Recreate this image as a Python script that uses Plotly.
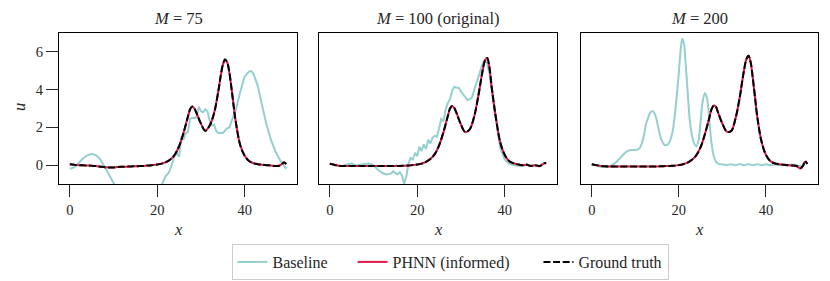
import plotly.graph_objects as go

# ---------------- data ----------------
PANEL_TITLES = ["<i>M</i> = 75", "<i>M</i> = 100 (original)", "<i>M</i> = 200"]
X_TICKS = [0, 20, 40]
Y_TICKS = [0, 2, 4, 6]

TRUTH_X = [0, 1, 2, 3, 4, 5, 6, 7, 8, 9, 10, 11, 12, 13, 14, 15, 16, 17, 18, 19,
           20, 21, 22, 23, 24, 25, 26, 27, 27.5, 28, 28.5, 29, 30, 31, 32, 33, 34,
           34.5, 35, 35.5, 36, 36.5, 37, 37.5, 38, 39, 40, 41, 42, 43, 44, 45, 46,
           47, 48, 48.5, 49, 49.5]

truth_m75 = [0.05, 0.02, 0.0, -0.01, -0.02, -0.03, -0.05, -0.08, -0.11, -0.12, -0.12,
             -0.1, -0.09, -0.08, -0.07, -0.06, -0.05, -0.04, -0.02, 0.0,
             0.03, 0.08, 0.16, 0.3, 0.55, 1.0, 1.7, 2.55, 2.95, 3.1, 3.0, 2.75, 2.2,
             1.82, 2.1, 2.75, 3.95, 4.7, 5.3, 5.6, 5.45, 4.9, 4.05, 3.1, 2.25, 1.05,
             0.5, 0.22, 0.1, 0.05, 0.02, 0.0, -0.02, -0.04, -0.03, 0.05, 0.15, 0.05]
phnn_m75 = [0.04, 0.02, 0.0, -0.01, -0.02, -0.03, -0.05, -0.08, -0.11, -0.12, -0.12,
            -0.1, -0.09, -0.08, -0.07, -0.06, -0.05, -0.04, -0.02, 0.0,
            0.03, 0.08, 0.16, 0.3, 0.55, 1.0, 1.7, 2.55, 2.95, 3.1, 3.0, 2.75, 2.2,
            1.82, 2.1, 2.75, 3.95, 4.7, 5.3, 5.6, 5.45, 4.9, 4.05, 3.1, 2.25, 1.05,
            0.5, 0.22, 0.1, 0.05, 0.02, 0.0, -0.02, -0.04, -0.02, 0.06, 0.12, 0.06]

truth_m100 = [0.08, 0.02, -0.03, -0.05, -0.05, -0.04, -0.05, -0.05, -0.05, -0.05,
              -0.05, -0.05, -0.05, -0.05, -0.05, -0.04, -0.04, -0.03, -0.02, 0.0,
              0.03, 0.08, 0.17, 0.32, 0.58, 1.05, 1.75, 2.6, 3.0, 3.13, 3.02, 2.75,
              2.15, 1.75, 1.9, 2.55, 3.7, 4.4, 5.05, 5.55, 5.68, 5.2, 4.2, 3.3, 2.5,
              1.2, 0.55, 0.22, 0.1, 0.04, 0.0, 0.03, -0.05, 0.0, -0.05, 0.0, 0.1, 0.1]
phnn_m100 = [0.07, 0.02, -0.03, -0.05, -0.05, -0.04, -0.05, -0.05, -0.05, -0.05,
             -0.05, -0.05, -0.05, -0.05, -0.05, -0.04, -0.04, -0.03, -0.02, 0.0,
             0.03, 0.08, 0.17, 0.32, 0.58, 1.05, 1.75, 2.6, 3.0, 3.13, 3.02, 2.75,
             2.15, 1.75, 1.9, 2.55, 3.7, 4.4, 5.05, 5.55, 5.68, 5.2, 4.2, 3.3, 2.5,
             1.2, 0.55, 0.22, 0.1, 0.04, 0.0, 0.02, -0.04, 0.0, -0.06, 0.02, 0.08, 0.12]

truth_m200 = [0.05, 0.0, -0.04, -0.06, -0.07, -0.07, -0.07, -0.07, -0.07, -0.07,
              -0.07, -0.07, -0.07, -0.07, -0.07, -0.07, -0.06, -0.05, -0.04, -0.03,
              0.0, 0.05, 0.13, 0.28, 0.52, 0.95, 1.65, 2.5, 2.95, 3.15, 3.1, 2.8,
              2.2, 1.78, 1.8, 2.45, 3.6, 4.35, 5.05, 5.6, 5.8, 5.45, 4.6, 3.6, 2.6,
              1.25, 0.55, 0.22, 0.1, 0.05, 0.02, 0.0, -0.02, -0.05, -0.15, -0.05, 0.22, 0.05]
phnn_m200 = [0.04, 0.0, -0.04, -0.06, -0.07, -0.07, -0.07, -0.07, -0.07, -0.07,
             -0.07, -0.07, -0.07, -0.07, -0.07, -0.07, -0.06, -0.05, -0.04, -0.03,
             0.0, 0.05, 0.13, 0.28, 0.52, 0.95, 1.65, 2.5, 2.95, 3.15, 3.1, 2.8,
             2.2, 1.78, 1.8, 2.45, 3.6, 4.35, 5.05, 5.6, 5.8, 5.45, 4.6, 3.6, 2.6,
             1.25, 0.55, 0.22, 0.1, 0.05, 0.02, 0.0, -0.02, -0.05, -0.18, -0.02, 0.18, 0.08]

base_m75_x = [0, 1, 2, 3, 4, 5, 6, 7, 8, 9, 10, 11, 13, 15, 17, 19, 20, 21, 21.5, 22,
              22.5, 23, 23.5, 24, 24.5, 25, 25.5, 26, 26.5, 27, 27.5, 28, 28.5, 29,
              29.5, 30, 30.5, 31, 31.5, 32, 32.5, 33, 33.5, 34, 35, 36, 36.5, 37, 38,
              39, 40, 41, 41.5, 42, 43, 44, 45, 46, 47, 48, 49, 49.5]
base_m75 = [-0.2, -0.12, 0.1, 0.35, 0.52, 0.6, 0.52, 0.3, -0.1, -0.55, -1.05, -1.5,
            -2.2, -2.5, -2.4, -1.9, -1.5, -1.05, -0.8, -0.55, -0.45, -0.2, 0.15, 0.5,
            0.62, 0.45, 1.5, 1.35, 1.7, 1.75, 2.45, 2.5, 2.5, 2.55, 3.1, 2.85, 2.8,
            2.95, 2.85, 2.35, 2.1, 2.15, 1.8, 1.7, 1.7, 1.95, 2.0, 2.3, 2.95, 3.9,
            4.7, 4.95, 4.98, 4.85, 4.2, 3.15, 2.15, 1.35, 0.75, 0.3, -0.05, -0.2]

base_m100_x = [0, 1, 2, 3, 4, 5, 6, 7, 8, 9, 10, 11, 12, 13, 14, 14.5, 15, 15.5, 16,
               16.5, 17, 17.5, 18, 18.5, 19, 19.5, 20, 20.5, 21, 21.5, 22, 22.5, 23,
               23.5, 24, 24.5, 25, 25.5, 26, 26.5, 27, 27.5, 28, 28.5, 29, 29.5, 30,
               30.5, 31, 31.5, 32, 32.5, 33, 34, 35, 35.5, 36, 36.5, 37, 38, 39, 40,
               41, 42, 43, 44, 45, 46, 47, 48, 49, 49.5]
base_m100 = [0.07, 0.0, -0.05, -0.05, 0.05, 0.08, -0.02, 0.02, 0.05, 0.08, 0.0, -0.25,
             -0.42, -0.5, -0.45, -0.32, -0.42, -0.48, -0.38, -0.55, -1.0, -0.6, 0.1,
             0.38, 0.3, 0.65, 0.48, 0.97, 0.75, 1.1, 0.85, 1.35, 1.15, 1.45, 1.55, 1.5,
             1.95, 2.45, 2.35, 2.95, 3.3, 3.5, 3.95, 4.15, 4.1, 4.1, 3.9, 3.75, 3.58,
             3.45, 3.5, 3.58, 3.95, 4.64, 5.4, 5.6, 5.35, 4.9, 4.0, 2.45, 0.9, 0.3,
             0.08, 0.0, -0.03, -0.05, 0.0, -0.02, -0.05, -0.05, 0.1, 0.12]

base_m200_x = [0, 1, 2, 3, 4, 5, 6, 7, 8, 9, 10, 10.5, 11, 11.5, 12, 12.5, 13, 13.5,
               14, 14.5, 15, 15.5, 16, 16.5, 17, 17.5, 18, 18.5, 19, 19.5, 20, 20.5,
               20.8, 21.2, 21.5, 22, 22.5, 23, 23.5, 24, 24.5, 25, 25.5, 26, 26.5, 27,
               27.5, 28, 28.5, 29, 30, 31, 32, 33, 34, 35, 36, 37, 38, 39, 40, 41, 42,
               43, 44, 45, 46, 47, 48, 49]
base_m200 = [0.04, -0.02, -0.08, -0.1, -0.08, 0.05, 0.25, 0.5, 0.72, 0.8, 0.8, 0.82,
             0.9, 1.15, 1.6, 2.2, 2.55, 2.8, 2.87, 2.7, 2.3, 1.75, 1.35, 1.12, 1.05,
             1.1, 1.3, 1.7, 2.5, 3.6, 4.9, 6.3, 6.7, 6.4, 5.6, 4.0, 2.4, 1.6, 1.15,
             1.0, 1.3, 2.3, 3.4, 3.82, 3.5, 2.4, 1.2, 0.5, 0.2, 0.08, 0.04, 0.0, 0.05,
             0.0, 0.05, 0.0, 0.05, 0.0, 0.05, 0.0, 0.04, 0.0, 0.03, 0.0, 0.03, 0.0,
             0.03, 0.0, -0.05, 0.0]

SERIES_NAMES = ["Baseline", "PHNN (informed)", "Ground truth"]

# ---------------- styles ----------------
C_BASE = "#95cfd0"
C_PHNN = "#dc1948"
C_TRUTH = "#000000"
FONT = "Liberation Serif"
TXT = "#262626"
PAD = "\u00a0"  # legend spacing

panels = [
    (base_m75_x, base_m75, phnn_m75, truth_m75, "linear"),
    (base_m100_x, base_m100, phnn_m100, truth_m100, "linear"),
    (base_m200_x, base_m200, phnn_m200, truth_m200, "spline"),
]

# the page body has an 8px margin, so work in page pixels minus that offset
OFF = 8
W = 830 - OFF
H = 281 - OFF
top_px, bot_px = 33 - OFF, 184 - OFF
px_doms = [(59 - OFF, 297 - OFF), (319 - OFF, 557 - OFF), (581 - OFF, 818 - OFF)]
ml = px_doms[0][0]
mr = W - px_doms[2][1]
mt = top_px
mb = H - bot_px
pw = W - ml - mr
ph = H - mt - mb
domains = [((a - ml) / pw, (b - ml) / pw) for a, b in px_doms]


def py(page_y):
    return (bot_px - (page_y - OFF)) / ph


def pxx(page_x):
    return ((page_x - OFF) - ml) / pw


fig = go.Figure()
pads = [5, 6, 0]
for i, (bx, by, pu, tu, shape) in enumerate(panels):
    xa = "x" if i == 0 else f"x{i+1}"
    ya = "y" if i == 0 else f"y{i+1}"
    show = i == 0
    names = [n + PAD * p for n, p in zip(SERIES_NAMES, pads)]
    fig.add_trace(go.Scatter(x=bx, y=by, mode="lines", name=names[0],
                             line=dict(color=C_BASE, width=2, shape=shape),
                             showlegend=show, xaxis=xa, yaxis=ya))
    fig.add_trace(go.Scatter(x=TRUTH_X, y=pu, mode="lines", name=names[1],
                             line=dict(color=C_PHNN, width=2, shape="spline"),
                             showlegend=show, xaxis=xa, yaxis=ya))
    fig.add_trace(go.Scatter(x=TRUTH_X, y=tu, mode="lines", name=names[2],
                             line=dict(color=C_TRUTH, width=2, shape="spline",
                                       dash="7px,2.6px"),
                             showlegend=show, xaxis=xa, yaxis=ya))

axis_common = dict(showline=True, mirror=True, linecolor="black", linewidth=1.3,
                   showgrid=False, zeroline=False, ticks="outside", ticklen=12,
                   tickwidth=1.3, tickcolor="#262626", automargin=False,
                   tickfont=dict(family=FONT, size=14.5, color=TXT))
layout = dict(
    width=W, height=H, margin=dict(l=ml, r=mr, t=mt, b=mb, autoexpand=False),
    plot_bgcolor="white", paper_bgcolor="white",
    font=dict(family=FONT, size=14, color=TXT),
    legend=dict(orientation="h", x=pxx(450), xanchor="center",
                y=py(244), yanchor="top",
                bordercolor="#cccccc", borderwidth=1,
                font=dict(family=FONT, size=16, color=TXT),
                itemwidth=30),
)
for i in range(3):
    sx = "" if i == 0 else str(i + 1)
    layout[f"xaxis{sx}"] = dict(axis_common, domain=list(domains[i]),
                                range=[-2.475, 51.975], tickvals=X_TICKS,
                                anchor=f"y{sx}")
    yax = dict(axis_common, domain=[0, 1], range=[-1, 7], tickvals=Y_TICKS,
               anchor=f"x{sx}")
    if i > 0:
        yax.update(showticklabels=False, ticks="")
    layout[f"yaxis{sx}"] = yax

fig.update_layout(**layout)

ann = []
for i, t in enumerate(PANEL_TITLES):
    cx = (domains[i][0] + domains[i][1]) / 2
    ann.append(dict(text=t, x=cx, y=py(19), xref="paper", yref="paper",
                    showarrow=False, xanchor="center", yanchor="middle",
                    font=dict(family=FONT, size=16.5, color=TXT)))
    ann.append(dict(text="<i>x</i>", x=cx, y=py(229), xref="paper",
                    yref="paper", showarrow=False, xanchor="center", yanchor="middle",
                    font=dict(family=FONT, size=16.5, color=TXT)))
ann.append(dict(text="<i>u</i>", x=pxx(20), y=py(107), xref="paper",
                yref="paper", showarrow=False, xanchor="center", yanchor="middle",
                textangle=-90, font=dict(family=FONT, size=16.5, color=TXT)))
fig.update_layout(annotations=ann)

fig.write_html("out.html")
